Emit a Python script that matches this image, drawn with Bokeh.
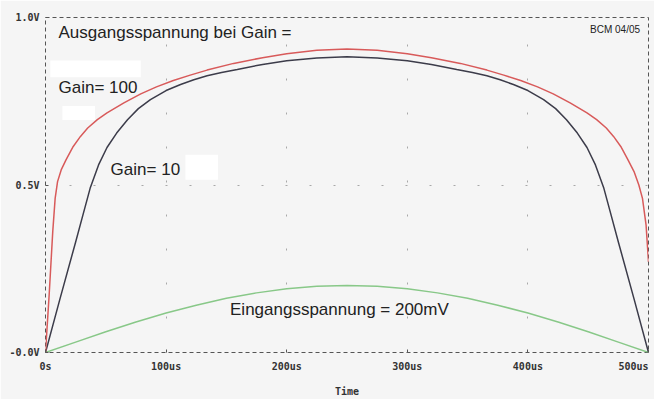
from bokeh.plotting import figure
from bokeh.models import Range1d, FixedTicker, Label, BoxAnnotation
from bokeh.embed import file_html
from bokeh.resources import INLINE

# time in microseconds
t_red = [0, 3, 6, 8, 10, 13, 17, 23, 29, 35, 43, 51, 65, 79, 92, 106, 120, 134, 156, 180, 200, 225, 250,
         275, 300, 320, 344, 366, 380, 394, 408, 421, 435, 449, 457, 465, 471, 477, 483, 488, 492, 495, 498, 500]
v_red = [0.0, 0.17, 0.36, 0.46, 0.51, 0.545, 0.575, 0.615, 0.645, 0.67, 0.695, 0.715, 0.745, 0.772, 0.793, 0.812, 0.828, 0.843, 0.863, 0.880, 0.892, 0.902, 0.906,
         0.902, 0.892, 0.880, 0.863, 0.843, 0.828, 0.812, 0.793, 0.772, 0.745, 0.715, 0.695, 0.67, 0.645, 0.615, 0.575, 0.54, 0.5, 0.46, 0.38, 0.27]

t_black = [0, 12, 25, 31, 37, 44, 51, 59, 68, 77, 87, 100, 112, 123, 134, 146, 159, 180, 200, 225, 250,
           275, 300, 320, 341, 354, 366, 377, 388, 400, 413, 423, 432, 441, 449, 456, 463, 469, 475, 488, 500]
v_black = [0.0, 0.16, 0.33, 0.41, 0.49, 0.56, 0.612, 0.655, 0.695, 0.728, 0.755, 0.782, 0.800, 0.814, 0.826, 0.836, 0.845, 0.86, 0.871, 0.879, 0.883,
           0.879, 0.871, 0.86, 0.845, 0.836, 0.826, 0.814, 0.800, 0.782, 0.755, 0.728, 0.695, 0.655, 0.612, 0.56, 0.49, 0.41, 0.33, 0.16, 0.0]

t_green = [0, 25, 50, 75, 100, 125, 150, 175, 200, 225, 250, 275, 300, 325, 350, 375, 400, 425, 450, 475, 500]
v_green = [0.0, 0.031, 0.062, 0.091, 0.118, 0.141, 0.162, 0.178, 0.190, 0.198, 0.2,
           0.198, 0.190, 0.178, 0.162, 0.141, 0.118, 0.091, 0.062, 0.031, 0.0]

x_ticks = [0, 100, 200, 300, 400, 500]
x_labels = ["0s", "100us", "200us", "300us", "400us", "500us"]
y_ticks = [0, 0.5, 1.0]
y_labels = ["-0.0V", "0.5V", "1.0V"]

BG = "#f5f5f5"
p = figure(width=654, height=399, output_backend="svg", toolbar_location=None,
           x_range=Range1d(0, 500), y_range=Range1d(0, 1.0),
           min_border_left=45, min_border_right=6, min_border_top=17, min_border_bottom=45,
           background_fill_color=BG, border_fill_color=BG)

p.outline_line_color = "#555555"
p.outline_line_dash = "4 3"
p.outline_line_width = 1

for ax in (p.xaxis, p.yaxis):
    ax.axis_line_color = None
    ax.major_tick_in = 3
    ax.major_tick_out = 0
    ax.minor_tick_line_color = None
    ax.major_tick_line_color = "#555555"
    ax.major_label_text_font = "DejaVu Sans Mono"
    ax.major_label_text_font_style = "bold"
    ax.major_label_text_font_size = "10px"
    ax.major_label_text_color = "#333333"

p.xaxis.ticker = FixedTicker(ticks=x_ticks)
p.yaxis.ticker = FixedTicker(ticks=y_ticks)
overrides = dict(zip(x_ticks, x_labels))
overrides[500] = x_labels[-1] + "\u00a0"
p.xaxis.major_label_overrides = overrides
p.yaxis.major_label_overrides = dict(zip(y_ticks, y_labels))
p.xaxis.major_label_standoff = 8
p.yaxis.major_label_standoff = 6
p.xaxis.axis_label = "Time"
p.xaxis.axis_label_text_font = "DejaVu Sans Mono"
p.xaxis.axis_label_text_font_style = "bold"
p.xaxis.axis_label_text_font_size = "10px"
p.xaxis.axis_label_text_color = "#333333"
p.xaxis.axis_label_standoff = 11

p.xgrid.grid_line_color = "#a8a8a8"
p.xgrid.grid_line_dash = "2 32"
p.ygrid.grid_line_color = "#a8a8a8"
p.ygrid.grid_line_dash = "2 22"

# white patches
for l, r, b, t in [(4, 79, 0.822, 0.872), (14, 41, 0.694, 0.736), (116, 143, 0.516, 0.59)]:
    p.add_layout(BoxAnnotation(left=l, right=r, bottom=b, top=t, fill_color="white",
                               fill_alpha=1, line_color=None, level="underlay"))

p.line(t_green, v_green, line_color="#88c888", line_width=1.5)
p.line(t_black, v_black, line_color="#3c3c4a", line_width=1.5)
p.line(t_red, v_red, line_color="#d85a5a", line_width=1.5)

def lab(x, y, txt, size="17px", align="left"):
    p.add_layout(Label(x=x, y=y, text=txt, text_align=align, text_baseline="middle",
                       text_font="Liberation Sans", text_font_size=size, text_color="#222222"))

lab(10.8, 0.955, "Ausgangsspannung bei Gain =")
lab(10.8, 0.792, "Gain= 100")
lab(54, 0.546, "Gain= 10")
lab(153, 0.128, "Eingangsspannung = 200mV")
lab(493, 0.964, "BCM 04/05", "10px", "right")

open("out.html", "w").write(file_html(p, INLINE))
